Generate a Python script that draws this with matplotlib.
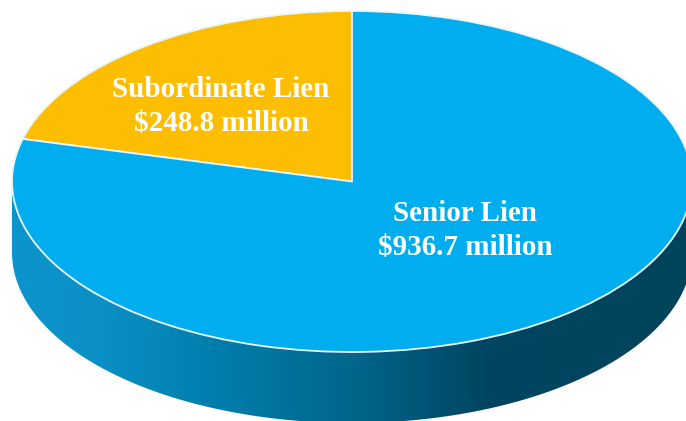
import numpy as np
import matplotlib
matplotlib.use('Agg')
import matplotlib.pyplot as plt
from matplotlib.colors import LinearSegmentedColormap
from matplotlib.patches import Polygon

labels = ["Subordinate Lien\n$248.8 million", "Senior Lien\n$936.7 million"]
values = [248.8, 936.7]
colors = ["#FDBD00", "#00AEEF"]

W, H = 686, 421
cx, cy = 352, 181.5
rx, ry = 340, 170.5
depth = 71

plt.rcParams['font.family'] = ['Liberation Serif', 'DejaVu Serif']
plt.rcParams['text.parse_math'] = False

fig = plt.figure(figsize=(W / 100, H / 100), dpi=100)

# background axes in pixel coords, used for the side of the disc
bg = fig.add_axes([0, 0, 1, 1])
bg.set_xlim(0, W)
bg.set_ylim(H, 0)
bg.axis('off')

# side wall: lower half of the ellipse plus the same arc shifted down
t = np.linspace(0, np.pi, 200)
top_x = cx + rx * np.cos(t)
top_y = cy + ry * np.sin(t)
side = np.column_stack([
    np.r_[top_x, top_x[::-1]],
    np.r_[top_y, top_y[::-1] + depth],
])
clip = Polygon(side, closed=True, transform=bg.transData, fc='none', ec='none')
bg.add_patch(clip)

side_cmap = LinearSegmentedColormap.from_list("side", [
    (0.0, "#0C95CC"),
    (0.13, "#0B90C5"),
    (0.28, "#0080AF"),
    (0.50, "#00668C"),
    (0.70, "#004560"),
    (1.0, "#00445C"),
])
grad = np.linspace(0, 1, 512).reshape(1, -1)
im = bg.imshow(grad, cmap=side_cmap, extent=[cx - rx, cx + rx, H, 0], aspect='auto', zorder=1)
im.set_clip_path(clip)
bg.set_xlim(0, W)
bg.set_ylim(H, 0)

# top face, a real pie squashed into an ellipse
ax = fig.add_axes([(cx - rx) / W, 1 - (cy + ry) / H, 2 * rx / W, 2 * ry / H])
ax.patch.set_alpha(0)
wedges, _ = ax.pie(values, colors=colors, startangle=90, counterclock=True, radius=1,
                   wedgeprops=dict(edgecolor='#EAF5FA', linewidth=1.3))
ax.set_aspect('auto')
ax.set_xlim(-1, 1)
ax.set_ylim(-1, 1)
for w in wedges:
    w.set_clip_on(False)

bg.set_zorder(0)
ax.set_zorder(1)

fig.text(221 / W, 1 - 106.5 / H, labels[0], color='white', fontsize=21, fontweight='bold',
         ha='center', va='center', linespacing=1.3, zorder=5)
fig.text(465 / W, 1 - 230.5 / H, labels[1], color='white', fontsize=21, fontweight='bold',
         ha='center', va='center', linespacing=1.3, zorder=5)

fig.savefig('out.png', dpi=100)
